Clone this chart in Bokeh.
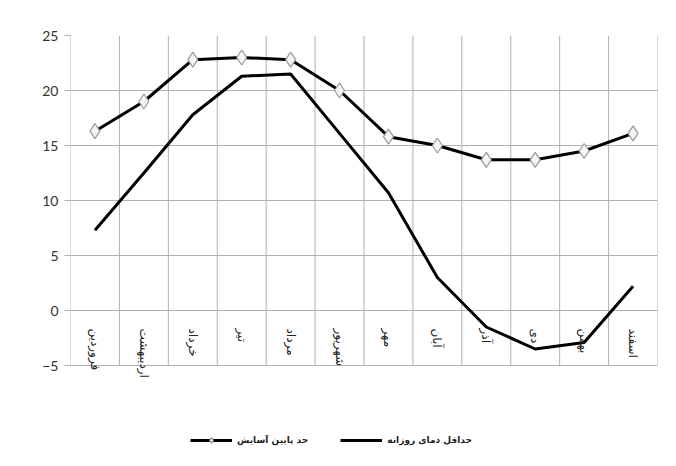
import math
from bokeh.plotting import figure
from bokeh.models import (ColumnDataSource, FixedTicker, LabelSet, Legend, LegendItem, Range1d)
from bokeh.core.properties import value
from bokeh.embed import file_html
from bokeh.resources import INLINE

months = ["فروردین", "اردیبهشت", "خرداد", "تیر", "مرداد", "شهریور",
          "مهر", "آبان", "آذر", "دی", "بهمن", "اسفند"]
comfort_low = [16.3, 19.0, 22.8, 23.0, 22.8, 20.0, 15.8, 15.0, 13.7, 13.7, 14.5, 16.1]
daily_min = [7.3, 12.5, 17.8, 21.3, 21.5, 16.1, 10.7, 3.0, -1.5, -3.5, -2.9, 2.2]
y_ticks = [-5, 0, 5, 10, 15, 20, 25]

GRID = "#b9adad"

n = len(months)
xs = [i + 0.5 for i in range(n)]
src = ColumnDataSource(dict(x=xs, month=months, comfort=comfort_low, dmin=daily_min,
                            ly=[0] * n))
bounds = list(range(n + 1))
gsrc = ColumnDataSource(dict(x=bounds, y0=[y_ticks[0]] * len(bounds),
                             y1=[y_ticks[-1]] * len(bounds)))

p = figure(width=668, height=458, output_backend="svg", toolbar_location=None,
           x_range=Range1d(0, n), y_range=Range1d(-13, 25),
           min_border_left=70, min_border_right=11, min_border_top=35, min_border_bottom=5)
p.outline_line_color = None
p.background_fill_color = "white"

p.xaxis.visible = False
p.xgrid.visible = False
p.segment(x0="x", y0="y0", x1="x", y1="y1", source=gsrc, line_color=GRID, line_width=1)

p.yaxis.ticker = FixedTicker(ticks=y_ticks)
p.ygrid.ticker = FixedTicker(ticks=y_ticks)
p.ygrid.grid_line_color = GRID
p.yaxis.axis_line_color = None
p.yaxis.major_tick_line_color = GRID
p.yaxis.major_tick_out = 6
p.yaxis.major_tick_in = 0
p.yaxis.minor_tick_line_color = None
p.yaxis.major_label_text_font = "Lato"
p.yaxis.major_label_text_font_size = "14px"
p.yaxis.major_label_text_color = "#333333"
p.yaxis.major_label_standoff = 6

r_comfort_line = p.line("x", "comfort", source=src, line_color="black", line_width=3)
r_comfort_pts = p.scatter("x", "comfort", source=src, marker="diamond", size=15,
                          fill_color="#f4f4f4", line_color="#999999", line_width=1.2)
r_min = p.line("x", "dmin", source=src, line_color="black", line_width=3)

labels = LabelSet(x="x", y="ly", text="month", source=src, angle=-math.pi / 2,
                  y_offset=-18, text_align="left", text_baseline="middle",
                  text_font=value("DejaVu Sans"), text_font_size="12px", text_color="#222222")
p.add_layout(labels)

legend = Legend(items=[
    LegendItem(label="حد پایین آسایش", renderers=[r_comfort_line, r_comfort_pts]),
    LegendItem(label="حداقل دمای روزانه", renderers=[r_min]),
], orientation="horizontal", location=(120, 6), glyph_width=42, glyph_height=14,
    label_text_font="DejaVu Sans", label_text_font_size="9px", label_text_font_style="bold",
    label_text_color="#222222", spacing=32, padding=2, margin=0, border_line_color=None,
    background_fill_alpha=0)
p.add_layout(legend, "center")

open("out.html", "w").write(file_html(p, INLINE))
